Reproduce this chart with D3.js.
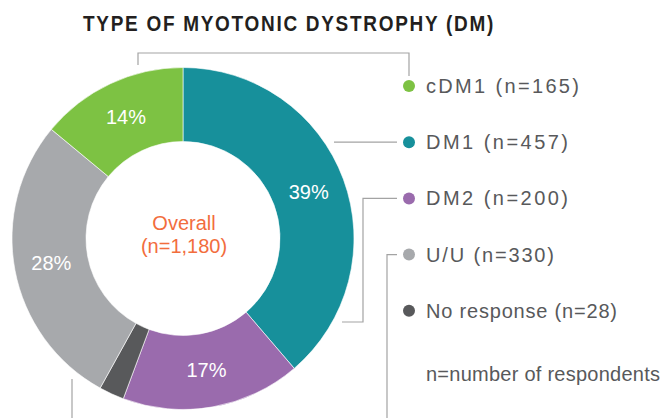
<!DOCTYPE html>
<html>
<head>
<meta charset="utf-8">
<style>
  body { margin: 0; background: #fff; }
  svg { display: block; }
  text { font-family: "Liberation Sans", Arial, sans-serif; }
  .title { font-weight: bold; font-size: 22px; letter-spacing: 2px; fill: #231f20; }
  .legend text { font-size: 20px; fill: #58595b; }
  .pct { font-size: 20px; fill: #fff; }
  .center { font-size: 20px; fill: #f26d3d; }
  .leader { stroke: #a3a3a3; stroke-width: 1.2; fill: none; }
</style>
</head>
<body>
<svg id="chart"></svg>
<script src="https://d3js.org/d3.v7.min.js"></script>
<script>
// data, in clockwise order starting from 12 o'clock
var categories = ["DM1", "DM2", "No response", "U/U", "cDM1"];
var counts     = [457, 200, 28, 330, 165];
var pctLabels  = ["39%", "17%", "", "28%", "14%"];
var colors     = ["#17909b", "#9a6bad", "#58595b", "#a7a9ac", "#7dc243"];

// legend order (top to bottom)
var legendOrder = ["cDM1", "DM1", "DM2", "U/U", "No response"];
var legendText  = ["cDM1 (n=165)", "DM1 (n=457)", "DM2 (n=200)", "U/U (n=330)", "No response (n=28)"];
var legendWidth = [153, 142, 142, 128, 191];
var total = 1180;

var W = 663, H = 418;
var cx = 183, cy = 238.5, R = 171, r = 97;

var svg = d3.select("#chart").attr("width", W).attr("height", H);

svg.append("text").attr("class", "title")
  .attr("x", 83).attr("y", 31)
  .attr("textLength", 412).attr("lengthAdjust", "spacingAndGlyphs")
  .text("TYPE OF MYOTONIC DYSTROPHY (DM)");

var data = categories.map(function(c, i) {
  return { cat: c, n: counts[i], label: pctLabels[i], color: colors[i] };
});

var pie = d3.pie().sort(null).value(function(d) { return d.n; });
var arc = d3.arc().innerRadius(r).outerRadius(R);
var labelArc = d3.arc().innerRadius(134).outerRadius(134);

var g = svg.append("g").attr("transform", "translate(" + cx + "," + cy + ")");
var arcs = pie(data);

g.selectAll("path").data(arcs).enter().append("path")
  .attr("d", arc)
  .attr("fill", function(d) { return d.data.color; })
  .attr("stroke", "#fff").attr("stroke-width", 0.6);

g.selectAll("text.pct").data(arcs).enter().append("text")
  .attr("class", "pct")
  .attr("text-anchor", "middle")
  .attr("transform", function(d) {
    var c = labelArc.centroid(d);
    return "translate(" + c[0] + "," + (c[1] + 7) + ")";
  })
  .text(function(d) { return d.data.label; });

g.append("text").attr("class", "center").attr("text-anchor", "middle")
  .attr("x", 1).attr("y", -8.5).text("Overall");
g.append("text").attr("class", "center").attr("text-anchor", "middle")
  .attr("x", 1).attr("y", 14.5).text("(n=" + d3.format(",")(total) + ")");

// legend
var dotX = 409, textX = 426;
var rowY = d3.scaleLinear().domain([0, 1]).range([86, 142.2]);

var leg = svg.append("g").attr("class", "legend");
legendOrder.forEach(function(name, i) {
  var d = data[categories.indexOf(name)];
  leg.append("circle").attr("cx", dotX).attr("cy", rowY(i)).attr("r", 6)
    .attr("fill", d.color);
  leg.append("text").attr("x", textX).attr("y", rowY(i) + 7)
    .attr("textLength", legendWidth[i]).attr("lengthAdjust", "spacing")
    .text(legendText[i]);
});
leg.append("text").attr("x", textX).attr("y", 381)
  .attr("textLength", 234).attr("lengthAdjust", "spacing")
  .text("n=number of respondents");

// leader lines
var lead = svg.append("g");
// cDM1 bracket over the top
lead.append("path").attr("class", "leader")
  .attr("d", "M138,65V53H" + dotX + "V" + (rowY(0) - 10));
// DM1
lead.append("path").attr("class", "leader")
  .attr("d", "M334," + rowY(1) + "H" + (dotX - 12));
// DM2
lead.append("path").attr("class", "leader")
  .attr("d", "M" + (dotX - 12) + "," + rowY(2) + "H363V322H342");
// U/U, runs off the bottom
lead.append("path").attr("class", "leader")
  .attr("d", "M" + (dotX - 12) + "," + rowY(3) + "H387V" + H);
lead.append("path").attr("class", "leader")
  .attr("d", "M72,379V" + H);
</script>
</body>
</html>
